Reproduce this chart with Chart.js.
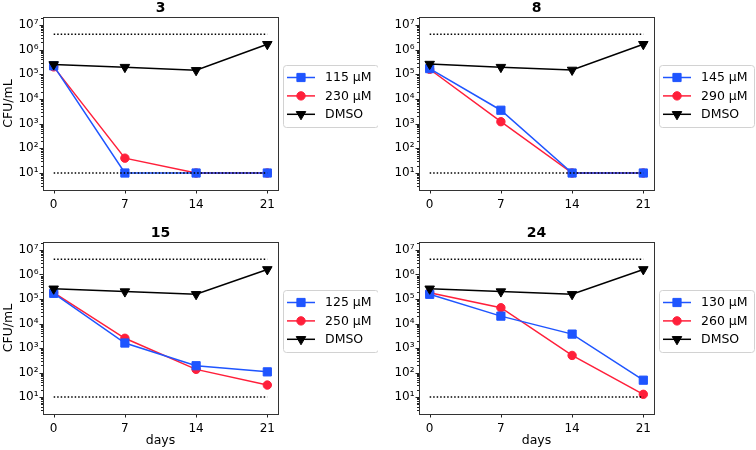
<!DOCTYPE html>
<html><head><meta charset="utf-8">
<script src="https://cdn.jsdelivr.net/npm/chart.js@4/dist/chart.umd.min.js"></script>
<style>
html,body{margin:0;padding:0;background:#fff;}
#wrap{position:relative;width:756px;height:450px;overflow:hidden;}
canvas{position:absolute;}
</style></head><body>
<div id="wrap">
<canvas id="c0" width="378" height="225" style="left:0;top:0"></canvas>
<canvas id="c1" width="378" height="225" style="left:378px;top:0"></canvas>
<canvas id="c2" width="378" height="225" style="left:0;top:225px"></canvas>
<canvas id="c3" width="378" height="225" style="left:378px;top:225px"></canvas>
</div>
<script>
// ---- data ----
const days = [0, 7, 14, 21];
const panelTitles = ['3', '8', '15', '24'];
const lowLabels = ['115 µM', '145 µM', '125 µM', '130 µM'];
const highLabels = ['230 µM', '290 µM', '250 µM', '260 µM'];
const dmsoLabel = 'DMSO';

const lowDose3 = [2.2e5, 10, 10, 10];
const highDose3 = [2.0e5, 40, 10, 10];
const dmso3 = [2.5e5, 1.95e5, 1.45e5, 1.65e6];

const lowDose8 = [1.7e5, 3.5e3, 10, 10];
const highDose8 = [1.6e5, 1.2e3, 10, 10];
const dmso8 = [2.6e5, 1.95e5, 1.5e5, 1.65e6];

const lowDose15 = [1.7e5, 1.6e3, 190, 107];
const highDose15 = [1.8e5, 2.5e3, 135, 31];
const dmso15 = [2.6e5, 2.0e5, 1.55e5, 1.6e6];

const lowDose24 = [1.55e5, 2.0e4, 3.7e3, 49];
const highDose24 = [1.8e5, 4.4e4, 500, 13];
const dmso24 = [2.6e5, 2.0e5, 1.55e5, 1.6e6];

const upperLine = [4.2e6, 4.2e6, 4.2e6, 4.2e6];
const detectionLimit = [10, 10, 10, 10];

const xTicks = [0, 7, 14, 21];
const yTicks = [10, 100, 1e3, 1e4, 1e5, 1e6, 1e7];

const lowSeries = [lowDose3, lowDose8, lowDose15, lowDose24];
const highSeries = [highDose3, highDose8, highDose15, highDose24];
const dmsoSeries = [dmso3, dmso8, dmso15, dmso24];

// ---- styling ----
const FONT = 'DejaVu Sans';
const BLUE = '#1f55ff';
const RED = '#ff1f3a';
const BLACK = '#000000';
const SUP = {'0':'⁰','1':'¹','2':'²','3':'³','4':'⁴','5':'⁵','6':'⁶','7':'⁷','8':'⁸','9':'⁹','-':'⁻'};
function supLabel(v){
  const e = Math.round(Math.log10(v));
  return '10' + String(e).split('').map(c => SUP[c]).join('');
}

const framePlugin = {
  id: 'frameTicks',
  afterDraw(chart) {
    const {ctx, chartArea: a} = chart;
    const xs = chart.scales.x, ys = chart.scales.y;
    ctx.save();
    ctx.strokeStyle = '#222';
    ctx.lineWidth = 1;
    // ticks
    ctx.beginPath();
    xTicks.forEach(t => {
      const px = Math.round(xs.getPixelForValue(t)) + 0.5;
      ctx.moveTo(px, a.bottom); ctx.lineTo(px, a.bottom + 3.5);
    });
    yTicks.forEach(t => {
      const py = Math.round(ys.getPixelForValue(t)) + 0.5;
      ctx.moveTo(a.left, py); ctx.lineTo(a.left - 3.5, py);
    });
    for (let e = 0; e <= 7; e++) {
      for (let m = 2; m <= 9; m++) {
        const v = m * Math.pow(10, e);
        if (v < ys.min || v > ys.max) continue;
        const py = Math.round(ys.getPixelForValue(v)) + 0.5;
        ctx.moveTo(a.left, py); ctx.lineTo(a.left - 2, py);
      }
    }
    ctx.stroke();
    // frame
    ctx.strokeStyle = '#333';
    ctx.strokeRect(Math.round(a.left) + 0.5, Math.round(a.top) + 0.5,
                   Math.round(a.right - a.left), Math.round(a.bottom - a.top));
    // legend
    const items = chart.data.datasets.filter(d => d.inLegend);
    const bx = a.right + 5, by = 65, bw = 95, bh = 62;
    ctx.fillStyle = 'rgba(255,255,255,0.9)';
    ctx.strokeStyle = '#d2d2d2';
    ctx.beginPath();
    ctx.roundRect(bx + 0.5, by + 0.5, bw, bh, 3);
    ctx.fill(); ctx.stroke();
    items.forEach((d, k) => {
      const ry = by + 12.5 + k * 18.4;
      ctx.strokeStyle = d.borderColor;
      ctx.lineWidth = 1.5;
      ctx.setLineDash([]);
      ctx.beginPath();
      ctx.moveTo(bx + 4, ry); ctx.lineTo(bx + 32, ry);
      ctx.stroke();
      ctx.fillStyle = d.pointBackgroundColor;
      ctx.strokeStyle = d.pointBorderColor;
      ctx.lineWidth = 1;
      Chart.helpers.drawPoint(ctx, {
        pointStyle: d.pointStyle, radius: d.pointRadius, rotation: d.pointRotation || 0,
        borderWidth: 1
      }, bx + 18, ry);
      ctx.fillStyle = '#000';
      ctx.font = '12.5px "' + FONT + '"';
      ctx.textBaseline = 'middle';
      ctx.textAlign = 'left';
      ctx.fillText(d.label, bx + 42, ry + 0.5);
    });
    ctx.restore();
  }
};

function makeChart(i) {
  const isLeft = (i % 2 === 0);
  const isBottom = (i >= 2);
  const ds = [];
  const mk = (label, data, color, style, radius, rot, order) => ({
    label, data: days.map((d, k) => ({x: d, y: data[k]})),
    borderColor: color, backgroundColor: color,
    pointBackgroundColor: color, pointBorderColor: color,
    pointStyle: style, pointRadius: radius, pointRotation: rot,
    pointBorderWidth: 1, borderWidth: 1.5, order, inLegend: true,
    pointHoverRadius: radius
  });
  ds.push(mk(lowLabels[i], lowSeries[i], BLUE, 'rect', 5.8, 0, 3));
  ds.push(mk(highLabels[i], highSeries[i], RED, 'circle', 4.2, 0, 4));
  ds.push(mk(dmsoLabel, dmsoSeries[i], BLACK, 'triangle', 5.5, 180, 1));
  [upperLine, detectionLimit].forEach(arr => {
    ds.push({
      label: 'limit', data: days.map((d, k) => ({x: d, y: arr[k]})),
      borderColor: BLACK, borderWidth: 1.5, borderDash: [1.5, 2],
      pointRadius: 0, pointHoverRadius: 0, order: 2, inLegend: false
    });
  });
  return new Chart(document.getElementById('c' + i), {
    type: 'line',
    data: {datasets: ds},
    plugins: [framePlugin],
    options: {
      responsive: false, animation: false, events: [],
      layout: {padding: {left: 0, top: 0, bottom: 0, right: isLeft ? 100 : 102}},
      plugins: {
        legend: {display: false}, tooltip: {enabled: false},
        title: {display: true, text: panelTitles[i], color: '#000', fullSize: false,
                font: {family: FONT, size: 14, weight: 'bold'}, padding: {top: 0, bottom: 0.2}}
      },
      scales: {
        x: {
          type: 'linear', min: -1.05, max: 22.05,
          grid: {display: false, drawTicks: false}, border: {display: false},
          afterBuildTicks: s => { s.ticks = xTicks.map(v => ({value: v})); },
          afterFit: s => { s.height = isBottom ? 36 : 35; },
          ticks: {autoSkip: false, maxRotation: 0, padding: 7.5, color: '#000',
                  font: {family: FONT, size: 12}, callback: v => String(v)},
          title: {display: isBottom, text: 'days', color: '#000',
                  font: {family: FONT, size: 12.5}, padding: {top: 0, bottom: 1.5}}
        },
        y: {
          type: 'logarithmic', min: 2.05, max: 2.1e7,
          grid: {display: false, drawTicks: false}, border: {display: false},
          afterBuildTicks: s => { s.ticks = yTicks.map(v => ({value: v})); },
          afterFit: s => { s.width = isLeft ? 43 : 41; },
          ticks: {autoSkip: false, padding: 4.5, color: '#000',
                  font: {family: FONT, size: 12}, callback: v => supLabel(v)},
          title: {display: isLeft, text: 'CFU/mL', color: '#000',
                  font: {family: FONT, size: 12.5}, padding: {top: 1, bottom: 0}}
        }
      }
    }
  });
}
for (let i = 0; i < 4; i++) makeChart(i);
</script>
</body></html>
